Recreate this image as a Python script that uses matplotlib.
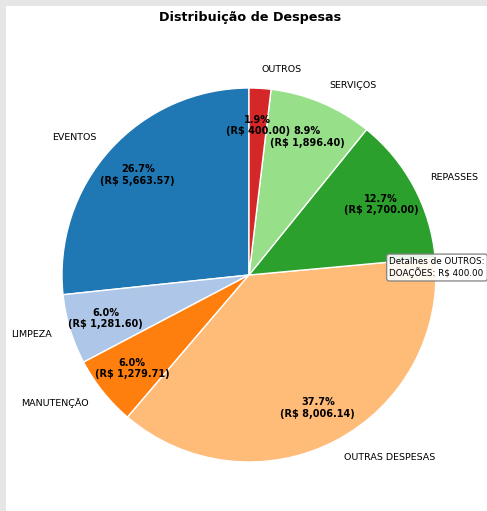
import matplotlib.pyplot as plt
from matplotlib.patches import Rectangle

categories = ['EVENTOS', 'LIMPEZA', 'MANUTENÇÃO', 'OUTRAS DESPESAS',
              'REPASSES', 'SERVIÇOS', 'OUTROS']
values = [5663.57, 1281.60, 1279.71, 8006.14, 2700.00, 1896.40, 400.00]
detail_label = 'DOAÇÕES'
detail_value = 400.00

total = sum(values)
colors = plt.cm.tab20.colors[:len(values)]


def fmt(pct):
    val = pct * total / 100
    return '{:.1f}%\n(R$ {:,.2f})'.format(pct, val)


fig = plt.figure(figsize=(4.87, 5.11), dpi=100)
fig.patch.set_facecolor('#e6e6e6')
# white page area (screenshot frame)
fig.patches.append(Rectangle((6 / 487, 0), 1, 1 - 6 / 511, transform=fig.transFigure,
                             facecolor='white', edgecolor='none', zorder=-1))

ax = fig.add_axes([62 / 487, (511 - 462) / 511, 374 / 487, 374 / 511])
ax.set_facecolor('none')

wedges, texts, autotexts = ax.pie(values, labels=categories, colors=colors,
                                  autopct=fmt, startangle=90, pctdistance=0.8,
                                  wedgeprops=dict(edgecolor='white', linewidth=1),
                                  textprops=dict(fontsize=6.8))
for t in autotexts:
    t.set_fontweight('bold')
    t.set_fontsize(7)
ax.set_aspect('equal')
ax.set_xlim(-1, 1)
ax.set_ylim(-1, 1)

ax.annotate('Detalhes de OUTROS:\n{}: R$ {:.2f}'.format(detail_label, detail_value),
            xy=(0.75, 0.04), xycoords='data', ha='left', va='center', fontsize=6.3,
            bbox=dict(boxstyle='round,pad=0.3', facecolor='white', edgecolor='gray', alpha=0.9),
            annotation_clip=False)

fig.text(250 / 487, 1 - 17 / 511, 'Distribuição de Despesas', ha='center', va='center',
         fontsize=9.2, fontweight='bold')

fig.savefig('out.png', dpi=100, facecolor=fig.get_facecolor())
